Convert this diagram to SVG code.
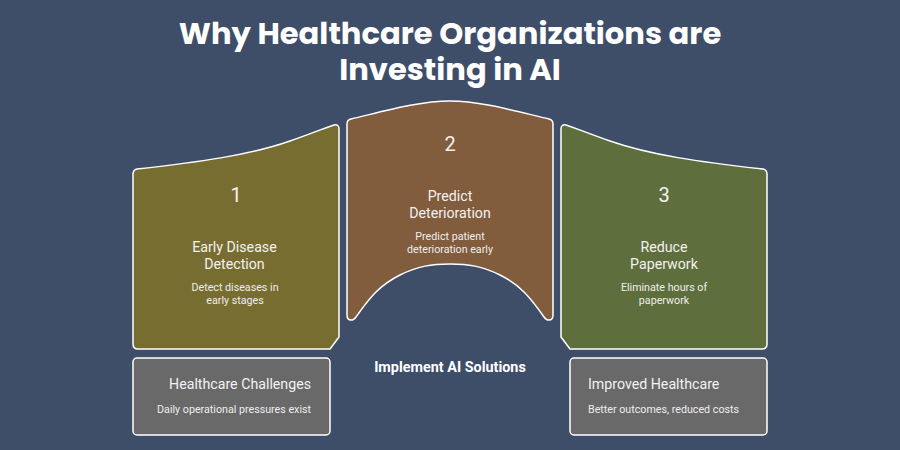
<svg xmlns="http://www.w3.org/2000/svg" width="900" height="450" viewBox="0 0 900 450">
<style>
text{font-family:Roboto,"Liberation Sans",sans-serif;fill:#fff;text-anchor:middle}
.s{stroke:#fff;stroke-width:1.5;stroke-linejoin:round}
.t{font-family:Poppins,Inter,"Liberation Sans",sans-serif;font-size:30.6px;font-weight:700}
.n{font-size:20px;fill:#f2f2f2}
.h{font-size:14.2px;fill:#f2f2f2}
.d{font-size:10.7px;fill:#eee}
.e{text-anchor:end}.b{text-anchor:start}
</style>
<rect width="900" height="450" fill="#3e4e69"/>
<g id="title"><text class="t" x="450" y="44">Why Healthcare Organizations are</text><text class="t" x="450" y="80">Investing in AI</text></g>
<g id="node1"><path class="s" fill="#786d31" d="M137 169C200 162 250 155 290 141C310 134 322 129 334 125Q339 124 339 129V337L330 349H138Q133 349 133 344V174Q133 170 137 169Z"/>
<text class="n" x="236" y="202">1</text><text class="h" x="234.500" y="252">Early Disease</text><text class="h" x="234.500" y="269">Detection</text><text class="d" x="235" y="291">Detect diseases in</text><text class="d" x="235" y="304">early stages</text></g>
<g id="node2"><path class="s" fill="#815c3d" d="M351 119C385 111 420 101 450 101C480 101 515 111 549 119Q553 120 553 124V315Q553 320 549 320Q546 320 544 317C530 297 520 285 500 275C482 266 468 264 450 264C432 264 418 266 400 275C380 285 370 297 356 317Q354 320 351 320Q347 320 347 315V124Q347 120 351 119Z"/>
<text class="n" x="450" y="151">2</text><text class="h" x="450" y="201">Predict</text><text class="h" x="450" y="218">Deterioration</text><text class="d" x="450" y="240">Predict patient</text><text class="d" x="450" y="253">deterioration early</text></g>
<g id="node3"><path class="s" fill="#5f6e3d" d="M763 169C700 162 650 155 610 141C590 134 578 129 566 125Q561 124 561 129V337L570 349H762Q767 349 767 344V174Q767 170 763 169Z"/>
<text class="n" x="664" y="202">3</text><text class="h" x="664" y="252">Reduce</text><text class="h" x="664" y="269">Paperwork</text><text class="d" x="664" y="291">Eliminate hours of</text><text class="d" x="664" y="304">paperwork</text></g>
<g id="node4"><rect class="s" fill="#696969" x="133" y="358" width="197" height="77" rx="4"/>
<text class="h e" x="311" y="389">Healthcare Challenges</text><text class="d e" x="311" y="413">Daily operational pressures exist</text></g>
<g id="node5"><rect class="s" fill="#696969" x="570" y="358" width="197" height="77" rx="4"/>
<text class="h b" x="588" y="389">Improved Healthcare</text><text class="d b" x="588" y="413">Better outcomes, reduced costs</text></g>
<g id="label"><text x="450" y="372" font-size="14.4" font-weight="700">Implement AI Solutions</text></g>
<g id="connectors"/>
</svg>
